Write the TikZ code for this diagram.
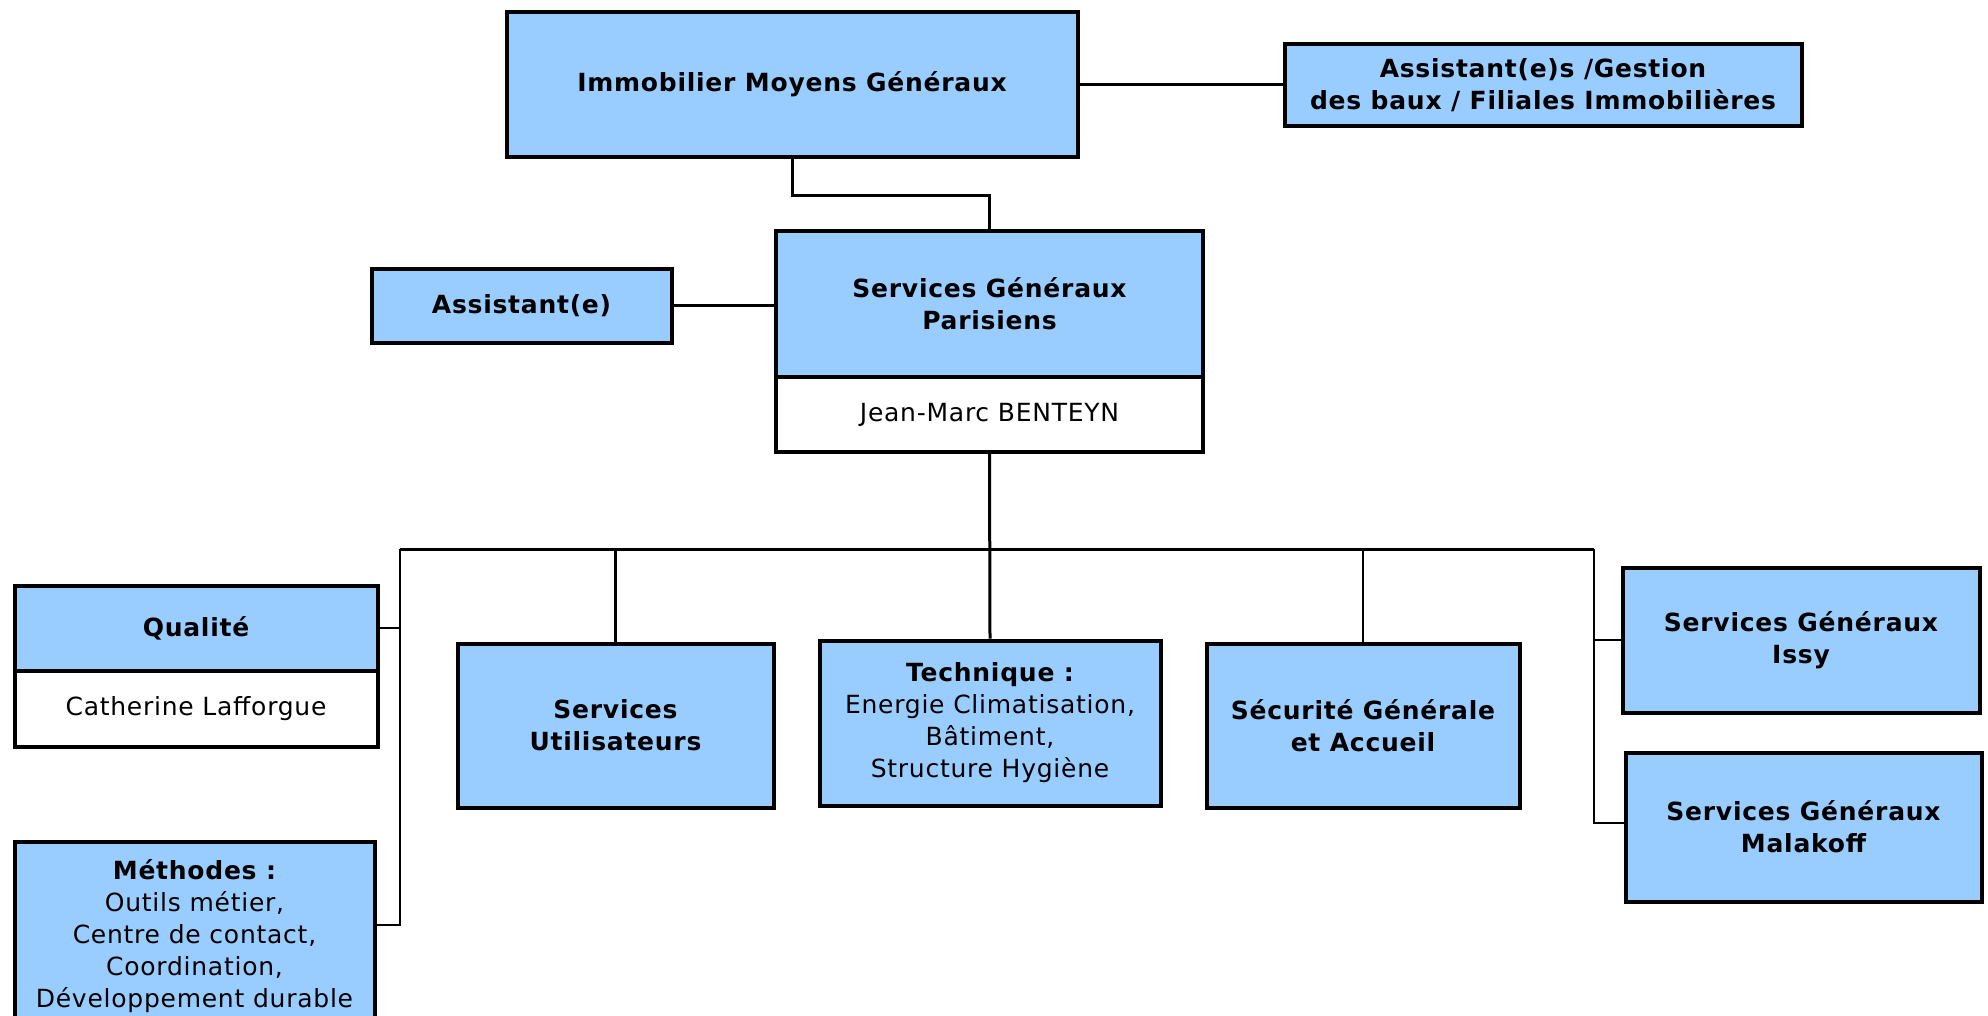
\documentclass[tikz,border=0pt]{standalone}
\usepackage{fontspec}
\setmainfont{DejaVu Sans}[LetterSpace=3.0]
\usetikzlibrary{positioning}
\definecolor{boxblue}{RGB}{153,204,255}

\begin{document}
\begin{tikzpicture}[
    x=1pt, y=-1pt,
    every node/.style={font=\fontsize{25}{32}\selectfont},
    unit/.style={rectangle, draw, line width=4pt, fill=boxblue, align=center, inner sep=0pt, font=\fontsize{25}{32}\selectfont\bfseries},
    person/.style={rectangle, draw, line width=4pt, fill=white, align=center, inner sep=0pt},
    link/.style={line width=3pt},
    thinlink/.style={line width=2.5pt}
]
\useasboundingbox (0,0) rectangle (1988,1015);

% Top level
\node[unit, minimum width=571pt, minimum height=145pt] (imo) at (792,84) {Immobilier Moyens Généraux};
\node[unit, minimum width=517pt, minimum height=82pt] (baux) at (1543,85) {Assistant(e)s /Gestion\\des baux / Filiales Immobilières};

% Services Generaux Parisiens
\node[unit, minimum width=427pt, minimum height=146pt] (sgp) at (989.5,304) {Services Généraux\\Parisiens};
\node[person, minimum width=427pt, minimum height=75pt, below=-4pt of sgp] (benteyn) {Jean-Marc BENTEYN};
\node[unit, minimum width=300pt, minimum height=74pt] (assist) at (521.5,305.5) {Assistant(e)};

% Left side
\node[unit, minimum width=363pt, minimum height=85pt] (qual) at (196,628) {Qualité};
\node[person, minimum width=363pt, minimum height=76pt, below=-4pt of qual] (lafforgue) {Catherine Lafforgue};
\node[unit, minimum width=360pt, minimum height=189pt] (meth) at (194.5,936) {Méthodes :\\\mdseries Outils métier,\\\mdseries Centre de contact,\\\mdseries Coordination,\\\mdseries Développement durable};

% Services
\node[unit, minimum width=316pt, minimum height=164pt] (util) at (615.5,725.5) {Services\\Utilisateurs};
\node[unit, minimum width=341pt, minimum height=165pt] (tech) at (990,723) {Technique :\\\mdseries Energie Climatisation,\\\mdseries Bâtiment,\\\mdseries Structure Hygiène};
\node[unit, minimum width=313pt, minimum height=164pt] (secu) at (1363,725.5) {Sécurité Générale\\et Accueil};

% Right side
\node[unit, minimum width=357pt, minimum height=145pt] (issy) at (1801,640) {Services Généraux\\Issy};
\node[unit, minimum width=356pt, minimum height=149pt] (malakoff) at (1803.5,827) {Services Généraux\\Malakoff};

\coordinate (busleft) at (400,549);
\coordinate (busright) at (1594,549);

% Connectors
\draw[link] (imo.east) -- (imo.east -| baux.west);
\draw[link] (imo.south) -- ++(0,37) -| (sgp.north);
\draw[link] (assist.east) -- (assist.east -| sgp.west);
\draw[link] (benteyn.south) -- (tech.north);
\draw[link] (busleft) -- (busright);
\draw[thinlink] (qual.east) -| (busleft) |- ([yshift=11pt]meth.east);
\draw[thinlink] (util.north) -- (util.north |- busleft);
\draw[thinlink] (secu.north) -- (secu.north |- busleft);
\draw[thinlink] (issy.west) -| (busright) |- ([yshift=4pt]malakoff.west);

\end{tikzpicture}
\end{document}
